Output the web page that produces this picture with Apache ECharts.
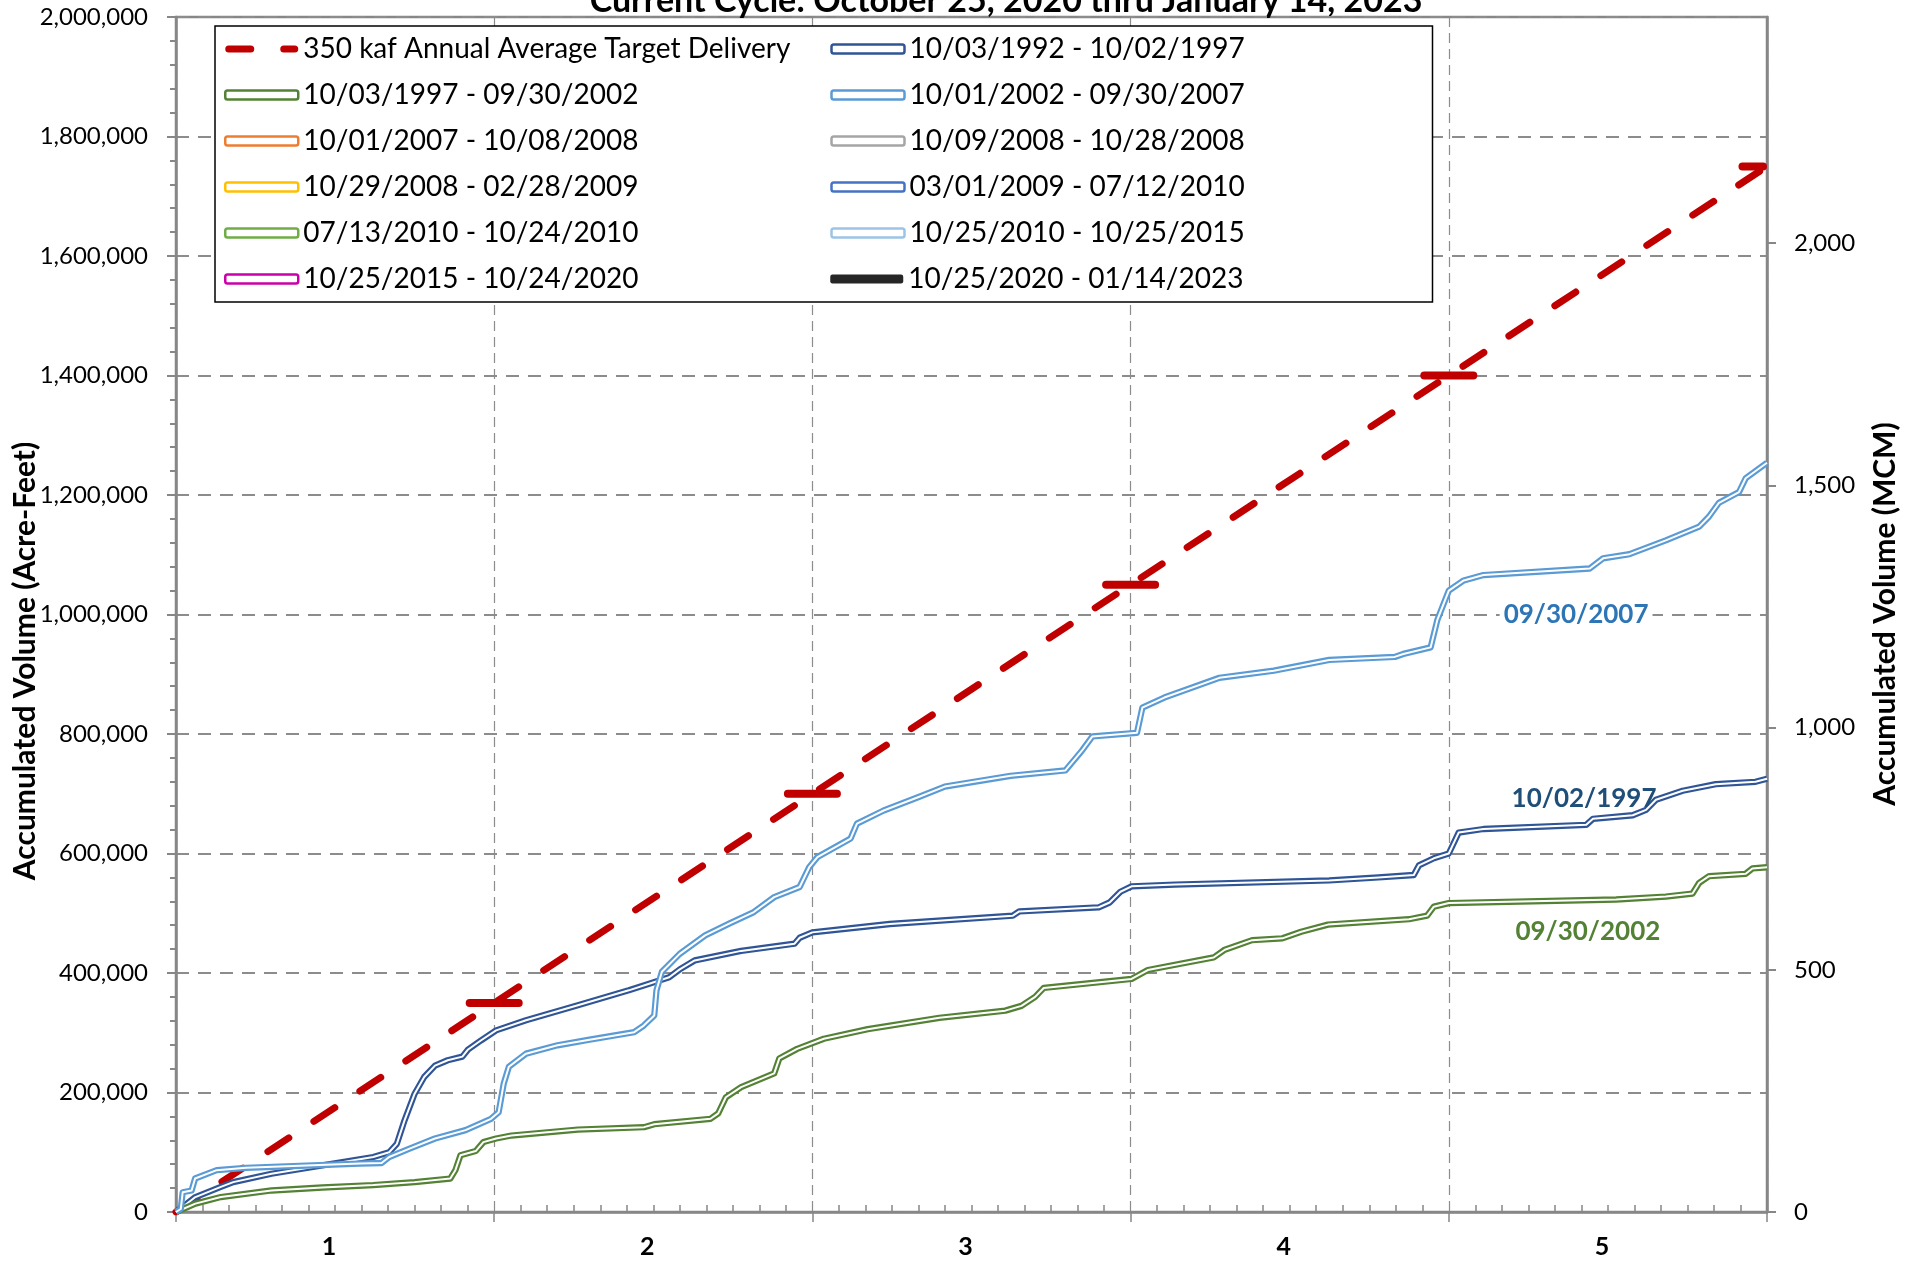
<!DOCTYPE html>
<html><head><meta charset="utf-8">
<script src="https://cdn.jsdelivr.net/npm/echarts@6/dist/echarts.min.js"></script>
<style>html,body{margin:0;padding:0;background:#fff}#c{width:1919px;height:1264px}</style>
</head><body><div id="c"></div>
<script>
// ---- data ----
const titleText = 'Current Cycle: October 25, 2020 thru January 14, 2023';
const leftAxisTitle = 'Accumulated Volume (Acre-Feet)';
const rightAxisTitle = 'Accumulated Volume (MCM)';
const yearLabels = ['1', '2', '3', '4', '5'];
const targetName = '350 kaf Annual Average Target Delivery';
const targetYears = [0, 1, 2, 3, 4, 5];
const targetVolume = [0, 350000, 700000, 1050000, 1400000, 1750000];
const markerYears = [1, 2, 3, 4, 5];
const markerVolume = [350000, 700000, 1050000, 1400000, 1750000];
const mcmTicks = [0, 500, 1000, 1500, 2000];
const cycleNames = [
  '10/03/1992 - 10/02/1997', '10/03/1997 - 09/30/2002', '10/01/2002 - 09/30/2007',
  '10/01/2007 - 10/08/2008', '10/09/2008 - 10/28/2008', '10/29/2008 - 02/28/2009',
  '03/01/2009 - 07/12/2010', '07/13/2010 - 10/24/2010', '10/25/2010 - 10/25/2015',
  '10/25/2015 - 10/24/2020', '10/25/2020 - 01/14/2023'
];
const cycle1992 = [[0,0],[0.03,12000],[0.061,25000],[0.141,42000],[0.18,50000],[0.30,64000],[0.46,78000],[0.62,92000],[0.67,100000],[0.694,114000],[0.718,153000],[0.75,198000],[0.78,226000],[0.814,245000],[0.854,254000],[0.90,260000],[0.918,272000],[0.958,287000],[1.006,304000],[1.10,321000],[1.263,346000],[1.423,371000],[1.487,382000],[1.55,393000],[1.583,406000],[1.63,421000],[1.776,437000],[1.944,449000],[1.96,459000],[2.0,468000],[2.243,482000],[2.63,496000],[2.65,503000],[2.9,510000],[2.934,518000],[2.968,536000],[3.003,545000],[3.14,548000],[3.624,555000],[3.779,560000],[3.89,564000],[3.906,580000],[3.953,592000],[4.0,600000],[4.031,635000],[4.109,641000],[4.432,648000],[4.453,658000],[4.578,664000],[4.62,673000],[4.651,690000],[4.735,705000],[4.839,716000],[4.964,720000],[5.0,725000]];
const cycle1997 = [[0,0],[0.061,14000],[0.141,25000],[0.30,36000],[0.46,41000],[0.62,45000],[0.75,50000],[0.862,56000],[0.878,70000],[0.894,95000],[0.942,102000],[0.966,117000],[1.006,123000],[1.054,128000],[1.263,138000],[1.471,142000],[1.503,147000],[1.68,156000],[1.704,165000],[1.728,192000],[1.776,209000],[1.88,232000],[1.896,257000],[1.952,273000],[2.036,290000],[2.174,306000],[2.399,325000],[2.606,337000],[2.657,345000],[2.70,360000],[2.727,375000],[3.003,390000],[3.054,405000],[3.261,426000],[3.296,439000],[3.382,455000],[3.477,458000],[3.536,469000],[3.62,481000],[3.875,490000],[3.932,496000],[3.953,511000],[4.0,517000],[4.526,523000],[4.682,528000],[4.766,533000],[4.787,551000],[4.818,562000],[4.933,566000],[4.954,575000],[5.0,577000]];
const cycle2002 = [[0,0],[0.015,5000],[0.021,33000],[0.049,36000],[0.06,56000],[0.128,70000],[0.22,74000],[0.578,81000],[0.646,82000],[0.67,92000],[0.734,106000],[0.814,123000],[0.91,137000],[0.99,156000],[1.014,167000],[1.03,215000],[1.046,243000],[1.10,265000],[1.199,279000],[1.295,288000],[1.44,301000],[1.47,312000],[1.503,329000],[1.51,371000],[1.527,402000],[1.583,432000],[1.663,463000],[1.74,483000],[1.816,502000],[1.88,527000],[1.96,544000],[1.99,577000],[2.016,594000],[2.12,625000],[2.14,650000],[2.224,672000],[2.336,695000],[2.416,712000],[2.623,730000],[2.795,739000],[2.847,772000],[2.88,796000],[3.02,802000],[3.037,844000],[3.106,861000],[3.279,894000],[3.45,906000],[3.624,924000],[3.83,929000],[3.857,934000],[3.943,945000],[3.964,991000],[4.0,1040000],[4.047,1057000],[4.109,1066000],[4.443,1077000],[4.485,1094000],[4.568,1101000],[4.682,1124000],[4.787,1147000],[4.818,1164000],[4.849,1187000],[4.912,1205000],[4.933,1228000],[5.0,1254000]];
const cycleData = [cycle1992, cycle1997, cycle2002, [], [], [], [], [], [], [], []];
const endLabels = ['10/02/1997', '09/30/2002', '09/30/2007'];
const acreFeetToMCM = 0.00123348;

// ---- styles ----
const cycleColors = ['#2F5597', '#548235', '#5B9BD5', '#ED7D31', '#A5A5A5', '#FFC000', '#4472C4', '#70AD47', '#9DC3E6', '#CC00AA', '#262626'];
const endLabelColors = ['#1F4E79', '#548235', '#2E75B6'];
const endLabelPos = [[4.425, 692000], [4.437, 470000], [4.40, 1000000]];
const F = 'Lato';
const GRAY = '#878787';
const RED = '#C00000';
const dashIcon = 'path://M3.5,0H25.5A3.5,3.5 0 0 1 25.5,7H3.5A3.5,3.5 0 0 1 3.5,0Z M58.5,0H69.5A3.5,3.5 0 0 1 69.5,7H58.5A3.5,3.5 0 0 1 58.5,0Z';

const chart = echarts.init(document.getElementById('c'), null, {renderer: 'canvas'});
const zip = (a, b) => a.map((v, i) => [v, b[i]]);
const fmt = v => Math.round(v).toLocaleString('en-US');

const series = [];
series.push({
  name: targetName, type: 'line', xAxisIndex: 0, yAxisIndex: 0,
  data: zip(targetYears, targetVolume), symbol: 'none', z: 2,
  color: RED,
  lineStyle: {color: RED, width: 7, type: [25, 30], cap: 'round'}
});
series.push({
  name: 'target markers', type: 'custom', xAxisIndex: 0, yAxisIndex: 0, z: 3,
  data: zip(markerYears, markerVolume),
  renderItem(params, api) {
    const p = api.coord([api.value(0), api.value(1)]);
    const w = 57, h = 8;
    const cs = params.coordSys;
    const r = echarts.graphic.clipRectByRect(
      {x: p[0] - w / 2, y: p[1] - h / 2, width: w, height: h},
      {x: cs.x, y: cs.y, width: cs.width, height: cs.height});
    if (!r) return;
    return {type: 'rect', shape: {x: r.x, y: r.y, width: r.width, height: r.height, r: 4}, style: {fill: RED}};
  }
});
cycleNames.forEach((nm, i) => {
  const s = {
    name: nm, type: 'line', xAxisIndex: 0, yAxisIndex: 0,
    data: cycleData[i], symbol: 'none', z: 4 + i * 2, color: cycleColors[i],
    lineStyle: {color: cycleColors[i], width: 6.3, join: 'round'}
  };
  if (i < 3) {
    s.markPoint = {
      symbol: 'circle', symbolSize: 1, itemStyle: {color: 'rgba(0,0,0,0)'},
      label: {show: true, position: 'inside', formatter: endLabels[i], color: endLabelColors[i],
        fontFamily: F, fontWeight: 'bold', fontSize: 26,
        backgroundColor: i === 2 ? '#fff' : 'transparent', padding: [0, 4]},
      data: [{coord: endLabelPos[i]}]
    };
  }
  series.push(s);
  if (cycleData[i].length && i !== 10) {
    series.push({
      name: '_inner' + i, type: 'line', xAxisIndex: 0, yAxisIndex: 0,
      data: cycleData[i], symbol: 'none', z: 5 + i * 2, silent: true,
      lineStyle: {color: '#fff', width: 2, join: 'round'}
    });
  }
});

const legendData = [{name: targetName, icon: dashIcon, itemStyle: {color: RED, borderWidth: 0}}]
  .concat(cycleNames.map((nm, i) => i === 10
    ? {name: nm, icon: 'roundRect', itemStyle: {color: cycleColors[i], borderWidth: 0}}
    : {name: nm, icon: 'roundRect', itemStyle: {color: '#fff', borderColor: cycleColors[i], borderWidth: 2.5}}));

const option = {
  animation: false,
  backgroundColor: '#fff',
  grid: {left: 176, right: 152, top: 17, bottom: 52, show: true, borderColor: GRAY, borderWidth: 2.5, containLabel: false},
  graphic: [
    {type: 'text', x: 1006, y: 1, style: {text: titleText, fontFamily: F, fontWeight: 'bold', fontSize: 34, fill: '#000', align: 'center', verticalAlign: 'middle'}},
    {type: 'text', x: 25, y: 661, rotation: Math.PI / 2, style: {text: leftAxisTitle, fontFamily: F, fontWeight: 'bold', fontSize: 30, fill: '#000', align: 'center', verticalAlign: 'middle'}},
    {type: 'text', x: 1885, y: 614, rotation: Math.PI / 2, style: {text: rightAxisTitle, fontFamily: F, fontWeight: 'bold', fontSize: 30, fill: '#000', align: 'center', verticalAlign: 'middle'}}
  ],
  legend: {
    left: 215, top: 26, width: 1210, orient: 'horizontal',
    itemWidth: 73, itemHeight: 9, itemGap: 10,
    padding: [5, 6, 5, 9],
    borderColor: '#000', borderWidth: 1.5, backgroundColor: '#fff',
    selectedMode: false,
    textStyle: {fontFamily: F, fontSize: 28, color: '#000', width: 517, lineHeight: 36},
    data: legendData
  },
  xAxis: [
    {type: 'value', position: 'bottom', min: 0, max: 5, interval: 1,
      axisLine: {show: true, onZero: false, lineStyle: {color: GRAY, width: 2.5}},
      axisTick: {show: true, length: 10, lineStyle: {color: GRAY, width: 1.5}},
      axisLabel: {show: false},
      splitLine: {show: true, lineStyle: {color: '#8C8C8C', width: 1.2, type: [10, 6]}}},
    {type: 'value', position: 'bottom', min: 0, max: 5, interval: 1,
      axisLine: {show: false, onZero: false},
      axisTick: {show: false, inside: true},
      minorTick: {show: true, splitNumber: 12, length: 7, lineStyle: {color: GRAY, width: 1.5}},
      axisLabel: {show: false}, splitLine: {show: false}},
    {type: 'category', position: 'bottom', data: yearLabels, boundaryGap: true,
      axisLine: {show: false, onZero: false}, axisTick: {show: false},
      axisLabel: {show: true, margin: 22, fontFamily: F, fontWeight: 'bold', fontSize: 25, color: '#000', padding: [0, 12, 0, 0]},
      splitLine: {show: false}}
  ],
  yAxis: [
    {type: 'value', position: 'left', min: 0, max: 2000000, interval: 200000,
      axisLine: {show: true, onZero: false, lineStyle: {color: GRAY, width: 2.5}},
      axisTick: {show: true, length: 9, lineStyle: {color: GRAY, width: 2}},
      minorTick: {show: true, splitNumber: 5, length: 6, lineStyle: {color: GRAY, width: 2}},
      axisLabel: {margin: 28, fontFamily: F, fontSize: 24, color: '#000', formatter: fmt},
      splitLine: {show: true, lineStyle: {color: '#8C8C8C', width: 2, type: [13, 9]}}},
    {type: 'value', position: 'right', min: 0, max: 2000000 * acreFeetToMCM, interval: 500,
      axisLine: {show: true, onZero: false, lineStyle: {color: GRAY, width: 2.5}},
      axisTick: {show: true, length: 9, customValues: mcmTicks, lineStyle: {color: GRAY, width: 2}},
      axisLabel: {margin: 27, fontFamily: F, fontSize: 24, color: '#000', formatter: fmt, customValues: mcmTicks},
      splitLine: {show: false}}
  ],
  series
};
chart.setOption(option);
</script></body></html>
